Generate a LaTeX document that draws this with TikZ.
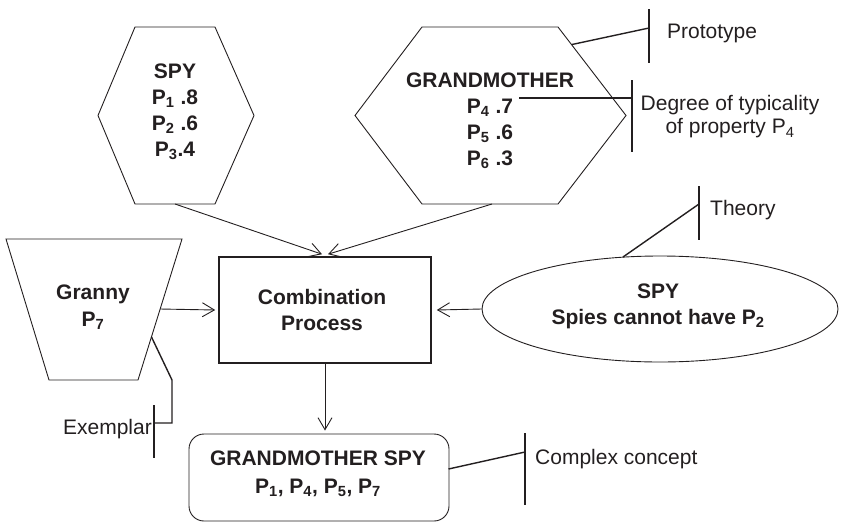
\documentclass[tikz,border=0pt]{standalone}
\usepackage{fontspec}
\setmainfont{Liberation Sans}
\usetikzlibrary{arrows.meta,shapes.geometric}
\definecolor{ink}{HTML}{231F20}
\tikzset{
  outline/.style={draw=ink, line width=0.9pt, line join=miter},
  lbl/.style={text=ink, font=\fontsize{21}{25}\selectfont, inner sep=0pt},
  concept/.style={text=ink, font=\fontsize{21}{26}\selectfont\bfseries, align=center, inner sep=0pt},
  arr/.style={draw=ink, line width=0.9pt, -{Straight Barb[length=12pt,width=14pt]}},
  tagline/.style={draw=ink, line width=1.4pt},
}
\newcommand{\sbs}[1]{\textsubscript{#1}}
\begin{document}
\begin{tikzpicture}[x=1pt,y=-1pt]
\useasboundingbox (0,0) rectangle (842,522);

% prototype hexagon: SPY
\draw[outline] (135,27) -- (215,27) -- (254,115.5) -- (215,204) -- (135,204) -- (98,115.5) -- cycle;
\coordinate (spyB) at (175,204);
\node[concept] (spy) at (175,112) {SPY\\P\sbs{1} .8\\P\sbs{2} .6\\P\sbs{3}.4};

% prototype hexagon: GRANDMOTHER
\draw[outline] (422,27) -- (558,27) -- (626,115.5) -- (558,204) -- (422,204) -- (355,115.5) -- cycle;
\coordinate (gmB) at (492,204);
\coordinate (gmTR) at (572,44.5);
\coordinate (gmP) at (519,98);
\node[concept] (gm) at (490,121) {GRANDMOTHER\\P\sbs{4} .7\\P\sbs{5} .6\\P\sbs{6} .3};

% exemplar trapezoid: Granny
\draw[outline] (6,239) -- (182,239) -- (138,380) -- (49,380) -- cycle;
\coordinate (grR) at (160,309);
\coordinate (grX) at (151.5,337);
\node[concept, font=\fontsize{21}{27}\selectfont\bfseries] (granny) at (93,307) {Granny\\P\sbs{7}};

% combination process
\node[draw=ink, line width=1.6pt, minimum width=212pt, minimum height=106pt, inner sep=0pt] (combo) at (325,310) {};
\node[concept] (combotxt) at (322,310) {Combination\\Process};

% theory ellipse
\node[ellipse, draw=ink, line width=0.9pt, minimum width=356pt, minimum height=106pt, inner sep=0pt] (theory) at (660,309) {};
\node[concept] (theorytxt) at (658,306) {SPY\\Spies cannot have P\sbs{2}};
\coordinate (thT) at (623,257);

% complex concept
\node[draw=ink, line width=0.9pt, rounded corners=15pt, minimum width=260pt, minimum height=87pt, inner sep=0pt] (cc) at (319,477.5) {};
\node[concept, font=\fontsize{21}{28}\selectfont\bfseries] (cctxt) at (318,474) {GRANDMOTHER SPY\\P\sbs{1}, P\sbs{4}, P\sbs{5}, P\sbs{7}};
\coordinate (ccR) at (448.5,469);

% arrows into and out of the combination process
\draw[arr] (spyB) -- ([xshift=-3pt,yshift=2pt]combo.north);
\draw[arr] (gmB) -- ([xshift=3pt,yshift=2pt]combo.north);
\draw[arr] (grR) -- ([xshift=-3pt]combo.west);
\draw[arr] (theory.west) -- ([xshift=5pt]combo.east);
\draw[arr] (combo.south) -- ([yshift=3pt]cc.north -| combo.south);

% annotation tags
\coordinate (protoBar) at (649,28);
\draw[tagline] (649,9) -- (649,63);
\draw[tagline] (gmTR) -- (protoBar);
\node[lbl, anchor=west] (protoLbl) at (667,33) {Prototype};

\coordinate (degBar) at (632,98);
\draw[tagline] (632,80) -- (632,152);
\draw[tagline] (gmP) -- (degBar);
\node[lbl, align=center, font=\fontsize{21}{23}\selectfont] (degLbl) at (730,117) {Degree of typicality\\of property P\sbs{4}};

\coordinate (thBar) at (699,204);
\draw[tagline] (699,186) -- (699,240);
\draw[tagline] (thT) -- (thBar);
\node[lbl, anchor=west] (thLbl) at (710,210) {Theory};

\coordinate (exBar) at (154,423);
\draw[tagline] (154,405) -- (154,458);
\draw[tagline, line join=miter] (grX) -- (172,380) -- (172,423) -- (exBar);
\node[lbl, anchor=east] (exLbl) at (152,429) {Exemplar};

\coordinate (ccBar) at (525,452);
\draw[tagline] (525,433) -- (525,505);
\draw[tagline] (ccR) -- (ccBar);
\node[lbl, anchor=west] (ccLbl) at (535,459) {Complex concept};
\end{tikzpicture}
\end{document}
